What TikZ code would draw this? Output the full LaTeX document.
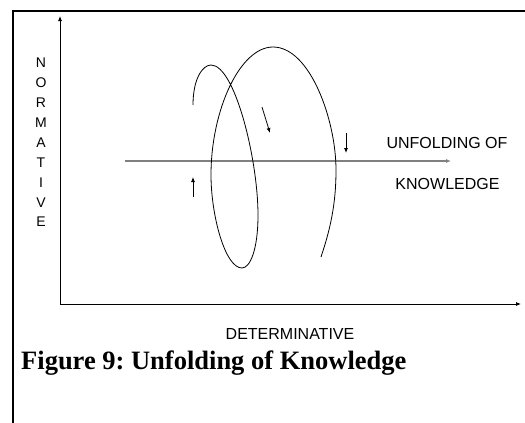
\documentclass[tikz,border=0pt]{standalone}
\usepackage{fontspec}
\setmainfont{Liberation Sans}
\newfontfamily\capfont{Liberation Serif}
\usetikzlibrary{arrows.meta}
\tikzset{
  axisline/.style={line width=0.8pt,-{Latex[length=5pt,width=4pt]}},
  smallarrow/.style={line width=0.8pt,-{Latex[length=5pt,width=4pt]}},
  lab/.style={inner sep=0pt,font=\fontsize{16}{19}\selectfont},
  framebox/.style={line width=2pt},
}
\frenchspacing
\begin{document}
\begin{tikzpicture}[x=1pt,y=-1pt]
\useasboundingbox (0,0) rectangle (525,423);
\fill[white] (0,0) rectangle (525,423);
% frame
\draw[framebox] (526,11) -- (13,11) -- (13,424);
% axes
\coordinate (O) at (60,304);
\coordinate (ytop) at (60,16);
\coordinate (xend) at (521,304);
\draw[axisline] (O) -- (ytop);
\draw[axisline] (O) -- (xend);
% gray unfolding arrow
\coordinate (gstart) at (125,161);
\coordinate (gend) at (451,161);
\draw[line width=1.5pt,color=black!50,-{Latex[length=5pt,width=4pt]}] (gstart) -- (gend);
% spiral
\draw[line width=0.8pt]
  (193,105) .. controls (193,78) and (203,65) .. (211,65)
  .. controls (235,65) and (258,160) .. (258,215)
  .. controls (258,250) and (250,268) .. (242,268)
  .. controls (225,268) and (211,215) .. (211,175)
  .. controls (211,110) and (240,47) .. (273,47)
  .. controls (310,47) and (336,120) .. (336,170)
  .. controls (336,205) and (330,230) .. (321,257);
% direction arrows
\coordinate (a1s) at (262,107); \coordinate (a1e) at (270,133);
\coordinate (a2s) at (346,133); \coordinate (a2e) at (346,153);
\coordinate (a3s) at (193,197); \coordinate (a3e) at (193,177);
\draw[smallarrow] (a1s) -- (a1e);
\draw[smallarrow] (a2s) -- (a2e);
\draw[smallarrow] (a3s) -- (a3e);
% labels
\node[lab] (unf) at (447,142.5) {UNFOLDING OF};
\node[lab] (know) at (447.5,184) {KNOWLEDGE};
\node[lab] (det) at (290,334) {DETERMINATIVE};
\node[inner sep=0pt,align=center,font=\fontsize{14}{19.9}\selectfont] (norm) at (41,142.5) {N\\O\\R\\M\\A\\T\\I\\V\\E};
\node[inner sep=0pt,anchor=base west,font=\capfont\bfseries\fontsize{26.5}{30}\selectfont] (cap) at (21,369) {Figure 9: Unfolding of Knowledge};
\end{tikzpicture}
\end{document}
